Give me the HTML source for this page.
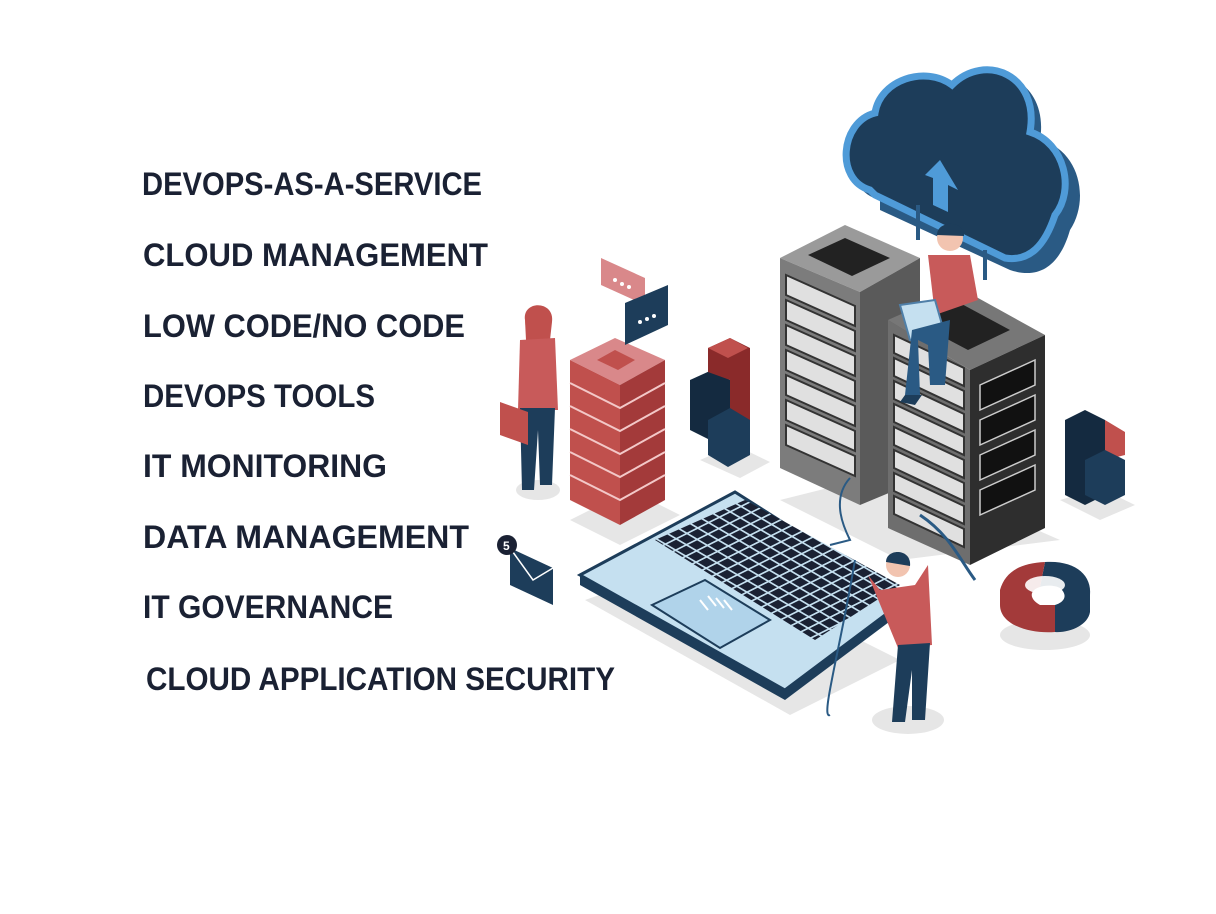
<!DOCTYPE html>
<html><head><meta charset="utf-8"><style>
html,body{margin:0;padding:0;background:#fff;}
svg{display:block}
.t{font-family:"Liberation Sans",sans-serif;font-weight:bold;font-size:32px;fill:#1a2133;}
</style></head><body>
<svg width="1216" height="914" viewBox="0 0 1216 914" xmlns="http://www.w3.org/2000/svg">
<defs>
<pattern id="keys" width="12" height="12" patternUnits="userSpaceOnUse" patternTransform="matrix(0.9,-0.45,0.85,0.5,0,0)">
<rect width="12" height="12" fill="#c5e0f0"/><rect x="1" y="1" width="10" height="10" fill="#1a2133"/>
</pattern>
</defs>
<rect width="1216" height="914" fill="#fff"/>
<g class="t">
<text x="142" y="195" textLength="340" lengthAdjust="spacingAndGlyphs">DEVOPS-AS-A-SERVICE</text>
<text x="143" y="266" textLength="345" lengthAdjust="spacingAndGlyphs">CLOUD MANAGEMENT</text>
<text x="143" y="337" textLength="322" lengthAdjust="spacingAndGlyphs">LOW CODE/NO CODE</text>
<text x="143" y="407" textLength="232" lengthAdjust="spacingAndGlyphs">DEVOPS TOOLS</text>
<text x="143" y="477" textLength="244" lengthAdjust="spacingAndGlyphs">IT MONITORING</text>
<text x="143" y="548" textLength="326" lengthAdjust="spacingAndGlyphs">DATA MANAGEMENT</text>
<text x="143" y="618" textLength="250" lengthAdjust="spacingAndGlyphs">IT GOVERNANCE</text>
<text x="146" y="690" textLength="469" lengthAdjust="spacingAndGlyphs">CLOUD APPLICATION SECURITY</text>
</g>

<!-- shadows -->
<g fill="#e6e6e6">
<ellipse cx="538" cy="490" rx="22" ry="10"/>
<polygon points="570,520 620,545 680,515 630,490"/>
<polygon points="700,460 740,478 770,462 735,445"/>
<polygon points="780,500 900,560 1060,540 900,470"/>
<polygon points="1060,500 1100,520 1135,505 1100,488"/>
<ellipse cx="1045" cy="635" rx="45" ry="15"/>
<ellipse cx="908" cy="720" rx="36" ry="14"/>
<polygon points="585,600 790,715 900,660 700,560"/>
</g>

<!-- cloud -->
<g>
<path d="M880,200 C840,190 845,130 880,120 C885,85 930,70 960,90 C990,55 1050,80 1040,140 C1080,150 1090,200 1070,230 C1060,265 1040,280 1010,270 L880,210 Z" fill="#2a5a84"/>
<path d="M870,190 C835,180 840,122 875,113 C880,80 925,65 952,85 C985,52 1040,75 1030,132 C1065,143 1075,190 1055,215 C1045,245 1030,262 1005,258 L875,195 Z" fill="#1d3d5a" stroke="#4f9bd8" stroke-width="7"/>
<polygon points="940,160 925,175 933,178 933,205 948,212 948,185 958,190" fill="#4f9bd8"/>
</g>
<g stroke="#2a5a84" stroke-width="4"><line x1="918" y1="205" x2="918" y2="240"/><line x1="985" y1="250" x2="985" y2="280"/></g>

<!-- left rack -->
<polygon points="780,258 845,225 920,258 860,292" fill="#9a9a9a"/>
<polygon points="808,255 845,238 890,258 852,276" fill="#222"/>
<polygon points="780,258 860,292 860,505 780,468" fill="#7c7c7c"/>
<polygon points="860,292 920,258 920,480 860,505" fill="#5a5a5a"/>
<g fill="#e0e0e0" stroke="#333" stroke-width="2">
<polygon points="786,275 855,306 855,326 786,295"/>
<polygon points="786,300 855,331 855,351 786,320"/>
<polygon points="786,325 855,356 855,376 786,345"/>
<polygon points="786,350 855,381 855,401 786,370"/>
<polygon points="786,375 855,406 855,426 786,395"/>
<polygon points="786,400 855,431 855,451 786,420"/>
<polygon points="786,425 855,456 855,476 786,445"/>
</g>

<!-- right rack -->
<polygon points="888,320 960,288 1045,335 970,370" fill="#777"/>
<polygon points="915,322 958,302 1010,330 968,350" fill="#222"/>
<polygon points="888,320 970,370 970,565 888,528" fill="#6e6e6e"/>
<polygon points="970,370 1045,335 1045,528 970,565" fill="#2e2e2e"/>
<g fill="#e0e0e0" stroke="#333" stroke-width="2">
<polygon points="894,335 964,368 964,386 894,353"/>
<polygon points="894,358 964,391 964,409 894,376"/>
<polygon points="894,381 964,414 964,432 894,399"/>
<polygon points="894,404 964,437 964,455 894,422"/>
<polygon points="894,427 964,460 964,478 894,445"/>
<polygon points="894,450 964,483 964,501 894,468"/>
<polygon points="894,473 964,506 964,524 894,491"/>
<polygon points="894,496 964,529 964,547 894,514"/>
</g>
<g fill="#111" stroke="#ccc" stroke-width="1.5">
<polygon points="980,385 1035,360 1035,385 980,410"/>
<polygon points="980,420 1035,395 1035,420 980,445"/>
<polygon points="980,455 1035,430 1035,455 980,480"/>
<polygon points="980,490 1035,465 1035,490 980,515"/>
</g>

<!-- sitting man -->
<circle cx="950" cy="238" r="13" fill="#f2c4b0"/>
<path d="M937,235 C937,220 965,220 964,236 Z" fill="#1d3d5a"/>
<path d="M928,255 L970,255 L978,300 L935,315 Z" fill="#c85a5a"/>
<polygon points="900,305 935,300 945,335 910,340" fill="#c5e0f0" stroke="#4f7fa8" stroke-width="2"/>
<path d="M912,330 L950,320 L945,385 L930,385 L928,345 L918,340 L920,395 L905,395 Z" fill="#2a5a84"/>
<polygon points="905,395 922,395 915,405 900,402" fill="#1d3d5a"/>

<!-- red stack -->
<g>
<polygon points="570,360 615,338 665,360 620,385" fill="#d9888a"/>
<polygon points="597,360 615,350 635,360 618,370" fill="#c0504d"/>
<polygon points="570,360 620,385 620,525 570,500" fill="#c0504d"/>
<polygon points="620,385 665,360 665,500 620,525" fill="#a33a3a"/>
<g stroke="#f3c8c8" stroke-width="2" fill="none">
<path d="M570,383 L620,408 L665,383"/><path d="M570,406 L620,431 L665,406"/>
<path d="M570,429 L620,454 L665,429"/><path d="M570,452 L620,477 L665,452"/>
<path d="M570,475 L620,500 L665,475"/>
</g>
</g>

<!-- chat bubbles -->
<polygon points="601,258 645,278 645,305 601,285" fill="#d9888a"/>
<polygon points="625,303 668,285 668,325 625,345" fill="#1d3d5a"/>
<g fill="#fff"><circle cx="615" cy="280" r="2"/><circle cx="622" cy="284" r="2"/><circle cx="629" cy="287" r="2"/>
<circle cx="640" cy="322" r="2"/><circle cx="647" cy="319" r="2"/><circle cx="654" cy="316" r="2"/></g>

<!-- woman -->
<circle cx="538" cy="322" r="13" fill="#f2c4b0"/>
<path d="M525,320 C522,300 555,300 552,322 L550,340 L526,340 Z" fill="#c0504d"/>
<path d="M520,340 L555,338 L558,410 L518,410 Z" fill="#c85a5a"/>
<path d="M520,408 L555,408 L552,485 L540,485 L538,430 L534,490 L522,490 Z" fill="#1d3d5a"/>
<polygon points="500,402 528,412 528,445 500,435" fill="#c0504d"/>

<!-- bar blocks left -->
<polygon points="690,380 712,370 730,380 730,450 710,440 690,430" fill="#142a40"/>
<polygon points="708,348 730,338 750,348 750,445 730,455 730,380 708,372" fill="#8a2a2a"/>
<polygon points="708,348 728,358 748,348 730,338" fill="#c0504d"/>
<polygon points="708,420 730,408 750,420 750,455 728,467 708,455" fill="#1d3d5a"/>

<!-- bar blocks right -->
<polygon points="1065,420 1085,410 1105,420 1105,495 1085,505 1065,495" fill="#142a40"/>
<polygon points="1105,420 1125,432 1125,455 1105,460" fill="#c0504d"/>
<polygon points="1085,460 1105,450 1125,460 1125,495 1105,505 1085,495" fill="#1d3d5a"/>

<!-- laptop -->
<polygon points="580,575 735,492 905,600 785,690" fill="#c5e0f0" stroke="#1d3d5a" stroke-width="3"/>
<polygon points="580,575 785,690 785,700 580,585" fill="#1d3d5a"/>
<polygon points="785,690 905,600 905,610 785,700" fill="#1d3d5a"/>
<polygon points="655,540 745,500 900,585 815,640" fill="url(#keys)"/>
<polygon points="652,605 705,580 770,620 720,648" fill="#b0d3ea" stroke="#1d3d5a" stroke-width="2"/>
<g stroke="#fff" stroke-width="2"><line x1="700" y1="600" x2="708" y2="610"/><line x1="708" y1="596" x2="716" y2="606"/><line x1="716" y1="598" x2="724" y2="608"/><line x1="724" y1="600" x2="732" y2="610"/></g>
<path d="M850,478 C830,500 845,530 850,540 L830,545" stroke="#2a5a84" fill="none" stroke-width="2"/>
<path d="M920,515 C950,535 960,560 975,580" stroke="#2a5a84" fill="none" stroke-width="3"/>
<path d="M855,560 C840,650 820,720 830,715" stroke="#2a5a84" fill="none" stroke-width="2"/>

<!-- standing man -->
<circle cx="898" cy="565" r="12" fill="#f2c4b0"/>
<path d="M886,562 C886,548 912,548 910,566 Z" fill="#1d3d5a"/>
<path d="M868,575 L880,590 L915,585 L928,565 L932,645 L898,648 Z" fill="#c85a5a"/>
<path d="M898,645 L930,643 L925,720 L912,720 L912,670 L905,722 L892,722 Z" fill="#1d3d5a"/>

<!-- envelope -->
<polygon points="510,548 553,568 553,605 510,585" fill="#1d3d5a"/>
<path d="M510,548 L533,580 L553,568" stroke="#fff" fill="none" stroke-width="1.5"/>
<circle cx="507" cy="545" r="10" fill="#1a2133"/>
<text x="503" y="550" font-family="Liberation Sans,sans-serif" font-size="12" font-weight="bold" fill="#fff">5</text>

<!-- donut -->
<path d="M1045,562 C1075,560 1092,575 1090,595 L1090,612 C1088,625 1070,633 1055,632 L1055,605 C1065,602 1068,595 1060,588 C1055,585 1045,585 1040,587 Z" fill="#1d3d5a"/>
<path d="M1040,587 C1030,590 1028,598 1040,605 L1055,605 L1055,632 C1030,634 1000,625 1000,605 L1000,590 C1005,572 1020,563 1045,562 Z" fill="#a33a3a"/>
<ellipse cx="1045" cy="585" rx="20" ry="9" fill="#fff" opacity="0.9"/>
</svg>
</body></html>
